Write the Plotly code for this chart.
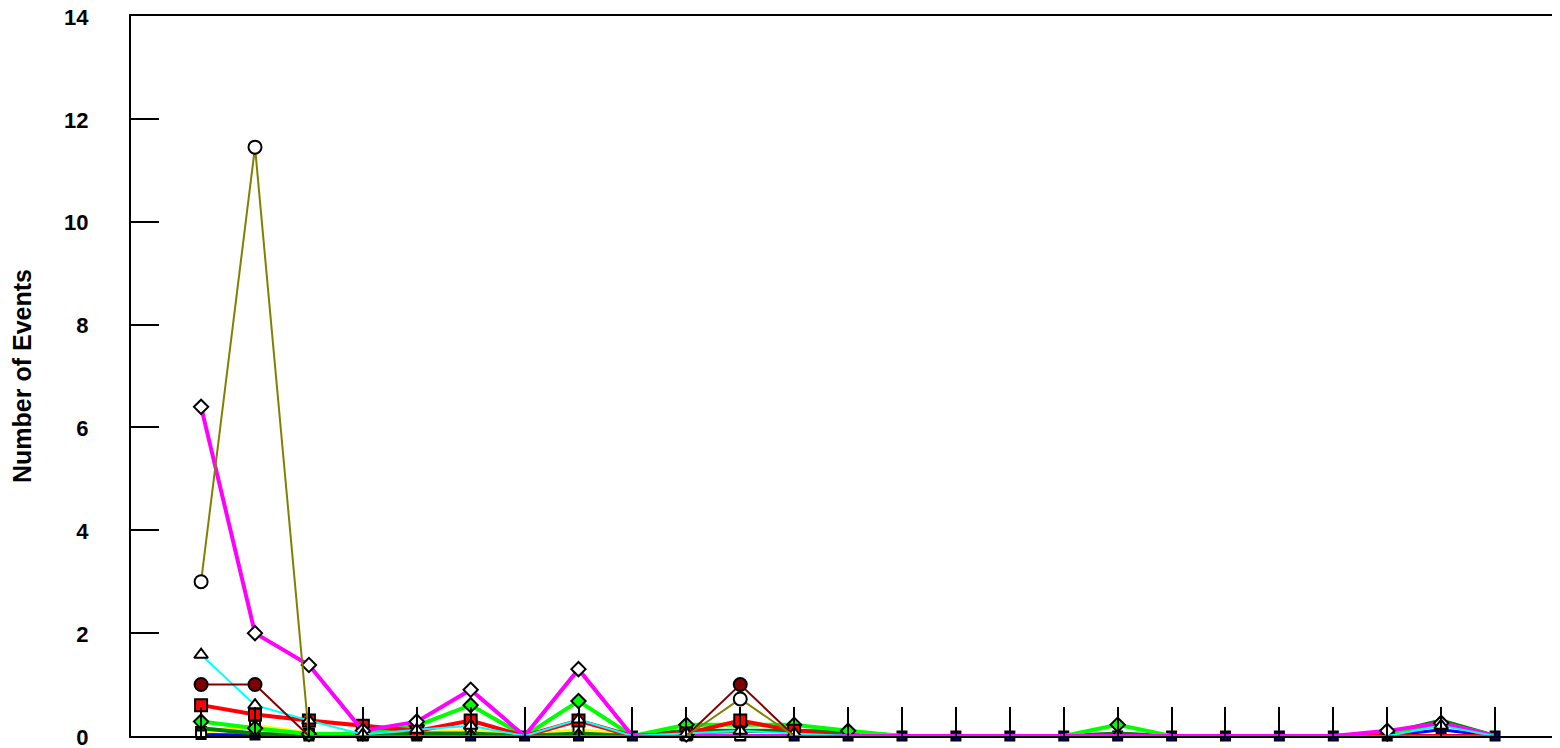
import plotly.graph_objects as go

categories = list(range(25))

olive = [3.0, 11.45, 0, 0, 0, 0, 0, 0, 0, 0, 0.72, 0, 0, 0, 0, 0, 0, 0, 0, 0, 0, 0, 0, 0, 0]
maroon = [1.0, 1.0, 0, 0, 0, 0, 0, 0, 0, 0, 1.0, 0, 0, 0, 0, 0, 0, 0, 0, 0, 0, 0, 0, 0, 0]
magenta = [6.4, 2.0, 1.38, 0.1, 0.28, 0.9, 0, 1.3, 0, 0.03, 0, 0, 0, 0, 0, 0, 0, 0, 0, 0, 0, 0, 0.1, 0.25, 0]
cyan = [1.58, 0.6, 0.3, 0.03, 0.12, 0.2, 0, 0.32, 0, 0.05, 0.1, 0.05, 0, 0, 0, 0, 0, 0, 0, 0, 0, 0, 0, 0.2, 0]
red = [0.6, 0.42, 0.3, 0.2, 0.1, 0.3, 0, 0.3, 0, 0.05, 0.3, 0.1, 0, 0, 0, 0, 0, 0, 0, 0, 0, 0, 0, 0, 0]
lime = [0.28, 0.15, 0.04, 0.05, 0.2, 0.6, 0, 0.68, 0, 0.22, 0.22, 0.22, 0.1, 0, 0, 0, 0, 0.22, 0, 0, 0, 0, 0.05, 0.25, 0]
yellow = [0.08, 0.2, 0.05, 0.02, 0.05, 0.1, 0, 0.12, 0, 0.02, 0.02, 0, 0, 0, 0, 0, 0, 0, 0, 0, 0, 0, 0, 0, 0]
darkgreen = [0.15, 0.05, 0, 0, 0.05, 0.05, 0, 0.05, 0, 0.1, 0.1, 0.1, 0.08, 0, 0, 0, 0, 0.05, 0, 0, 0, 0, 0.05, 0.3, 0]
blue = [0.03, 0.02, 0, 0, 0, 0, 0, 0, 0, 0, 0, 0, 0, 0, 0, 0, 0, 0, 0, 0, 0, 0, 0, 0.12, 0]

y_ticks = [0, 2, 4, 6, 8, 10, 12, 14]
y_title = "Number of Events"

FONT = "Liberation Sans, Arial, sans-serif"

# (values, line colour, line width, marker symbol, marker fill, marker size, markers at zero) bottom -> top
series = [
    (blue, "#0000FF", 3, "square", "#000080", 9, True),
    (yellow, "#FFFF00", 4, "square", "#FFFFFF", 10, False),
    (darkgreen, "#008000", 4, "triangle-up", "#008000", 9, False),
    (lime, "#00FF00", 4, "diamond", "#00FF00", 11, False),
    (red, "#FF0000", 4, "square", "#FF0000", 12, False),
    (magenta, "#FF00FF", 4, "diamond", "#FFFFFF", 11, False),
    (cyan, "#00FFFF", 2, "triangle-up", "#FFFFFF", 12, False),
    (maroon, "#800000", 2, "circle", "#800000", 13, False),
    (olive, "#808000", 2, "circle", "#FFFFFF", 13, False),
]

fig = go.Figure()
for vals, col, lw, sym, fill, size, at_zero in series:
    sizes = [size if (v > 0 or at_zero) else 0 for v in vals]
    fig.add_trace(go.Scatter(
        x=categories, y=vals, mode="lines+markers",
        line=dict(color=col, width=lw),
        marker=dict(symbol=sym, color=fill, size=sizes, opacity=1,
                    line=dict(color="black", width=2)),
        cliponaxis=False, showlegend=False,
    ))

fig.update_layout(
    width=1555, height=741,
    margin=dict(l=123, r=0, t=8, b=13, autoexpand=False),
    paper_bgcolor="white", plot_bgcolor="white",
    font=dict(family=FONT, color="black"),
    showlegend=False,
)
fig.update_xaxes(
    range=[-1.3, 25.26], tickmode="array", tickvals=categories,
    showticklabels=False, ticks="inside", ticklen=29, tickwidth=2, tickcolor="black",
    showline=True, linecolor="black", linewidth=2, mirror=True,
    showgrid=False, zeroline=False, automargin=False,
)
fig.update_yaxes(
    range=[0, 14], tickmode="array", tickvals=y_ticks, ticktext=[str(t) for t in y_ticks],
    ticks="inside", ticklen=28, tickwidth=2, tickcolor="black",
    ticklabelstandoff=36, ticklabeloverflow="allow", ticklabelshift=1,
    tickfont=dict(family=FONT, size=22, color="black", weight="bold"),
    showline=True, linecolor="black", linewidth=2, mirror=False,
    showgrid=False, zeroline=False, automargin=False,
    title=dict(text=y_title, font=dict(family=FONT, size=25, color="black", weight="bold"), standoff=30),
)

fig.write_html("out.html")
